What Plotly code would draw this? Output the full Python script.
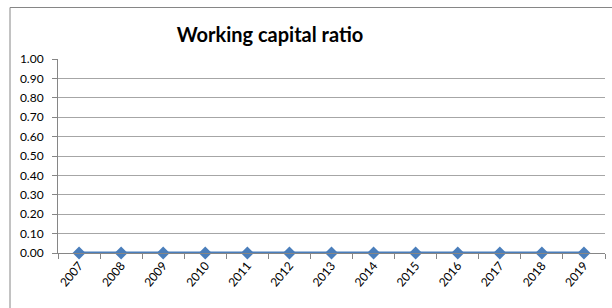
import plotly.graph_objects as go

years = [str(y) for y in range(2007, 2020)]
ratio = [0.0] * 13
y_ticks = [round(i * 0.1, 1) for i in range(11)]
y_labels = ["%.2f" % v for v in y_ticks]

W, H = 612, 308
L, R, T, B = 58, 7, 59, 55
pw, ph = W - L - R, H - T - B

def px2x(px):
    return (px - L) / pw

def py2y(py):
    return (H - B - py) / ph

FONT = "Lato, Carlito, Calibri, sans-serif"

fig = go.Figure()
fig.add_trace(go.Scatter(
    x=years, y=ratio, mode="lines+markers",
    line=dict(color="#4a7ebb", width=3),
    marker=dict(symbol="diamond", size=10, color="#4a7ebb"),
    showlegend=False, cliponaxis=False,
))

fig.update_layout(
    width=W, height=H,
    margin=dict(l=L, r=R, t=T, b=B, autoexpand=False),
    paper_bgcolor="white", plot_bgcolor="white",
    font=dict(family=FONT, size=12, color="black"),
    title=dict(text="<b>Working capital ratio</b>", x=270 / W, xref="container",
               xanchor="center", y=1 - 35 / H, yref="container", yanchor="middle",
               automargin=False,
               font=dict(size=20, family=FONT, color="black")),
    xaxis=dict(type="category", showgrid=False, showline=True, linecolor="#868686",
               linewidth=1, ticks="outside", tickson="boundaries", ticklen=5,
               tickcolor="#868686", tickangle=-50, tickfont=dict(size=12),
               range=[-0.5, 12.5], zeroline=False, automargin=False),
    yaxis=dict(range=[0, 1.0], tickvals=y_ticks, ticktext=y_labels, showgrid=True,
               gridcolor="#a6a6a6", gridwidth=1, showline=True, linecolor="#868686",
               ticks="outside", ticklen=5, tickcolor="#868686", zeroline=False,
               tickfont=dict(size=12), automargin=False, ticklabelstandoff=6),
    shapes=[dict(type="rect", xref="paper", yref="paper",
                 x0=px2x(10), x1=px2x(620), y0=py2y(320), y1=py2y(7.5),
                 line=dict(color="#868686", width=1), fillcolor="rgba(0,0,0,0)", layer="below")],
)

fig.write_html("out.html", config={"displayModeBar": False},
               post_script="document.body.style.margin='0';document.body.style.overflow='hidden';")
